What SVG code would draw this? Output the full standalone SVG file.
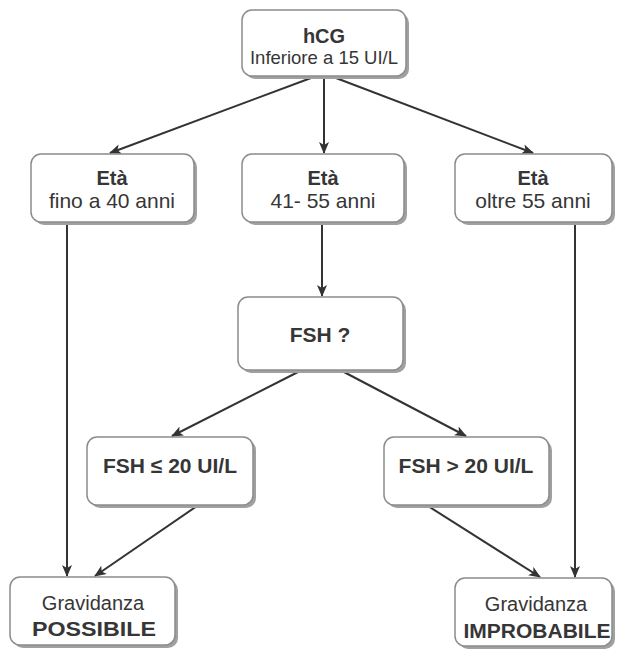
<svg xmlns="http://www.w3.org/2000/svg" width="618" height="655" viewBox="0 0 618 655">
<defs>
<marker id="ah" viewBox="0 0 12 10" refX="11" refY="5" markerWidth="12" markerHeight="10" markerUnits="userSpaceOnUse" orient="auto">
<path d="M0,0 L12,5 L0,10 L3,5 z" fill="#333"/>
</marker>
</defs>
<style>
.box{fill:#fff;stroke:#8c8c8c;stroke-width:1.5}
.sh{fill:#a0a0a0}
.b{font-family:"Liberation Sans",Arial,sans-serif;font-weight:bold;font-size:20px;fill:#363636;text-anchor:middle}
.r{font-family:"Liberation Sans",Arial,sans-serif;font-size:20px;fill:#363636;text-anchor:middle}
.c{stroke:#333;stroke-width:2;fill:none;marker-end:url(#ah)}
</style>
<rect width="618" height="655" fill="#fff"/>
<g id="connectors">
<line class="c" x1="311" y1="78" x2="110" y2="153"/>
<line class="c" x1="324" y1="78" x2="324" y2="153"/>
<line class="c" x1="336" y1="78" x2="533" y2="153"/>
<line class="c" x1="322" y1="222" x2="322" y2="296"/>
<line class="c" x1="300" y1="371" x2="172" y2="436"/>
<line class="c" x1="342" y1="371" x2="466" y2="436"/>
<line class="c" x1="67" y1="223" x2="67" y2="576"/>
<line class="c" x1="197" y1="506" x2="95" y2="576"/>
<line class="c" x1="428" y1="506" x2="540" y2="577"/>
<line class="c" x1="575" y1="223" x2="575" y2="577"/>
</g>
<g id="n_hcg">
<rect class="sh" x="245" y="13" width="164" height="66" rx="10"/>
<rect class="box" x="242" y="10" width="164" height="66" rx="10"/>
<text class="b" x="324" y="43">hCG</text>
<text class="r" x="324" y="64" style="font-size:18.5px">Inferiore a 15 UI/L</text>
</g>
<g id="n_eta1">
<rect class="sh" x="34" y="157" width="163" height="68" rx="10"/>
<rect class="box" x="31" y="154" width="163" height="68" rx="10"/>
<text class="b" x="112" y="185">Età</text>
<text class="r" x="112" y="208" style="font-size:21px">fino a 40 anni</text>
</g>
<g id="n_eta2">
<rect class="sh" x="245" y="157" width="162" height="68" rx="10"/>
<rect class="box" x="242" y="154" width="162" height="68" rx="10"/>
<text class="b" x="323" y="185">Età</text>
<text class="r" x="323" y="208" style="font-size:21px">41- 55 anni</text>
</g>
<g id="n_eta3">
<rect class="sh" x="458" y="157" width="157" height="68" rx="10"/>
<rect class="box" x="455" y="154" width="157" height="68" rx="10"/>
<text class="b" x="533" y="185">Età</text>
<text class="r" x="533" y="208" style="font-size:21px">oltre 55 anni</text>
</g>
<g id="n_fsh">
<rect class="sh" x="241" y="300" width="165" height="73" rx="10"/>
<rect class="box" x="238" y="297" width="165" height="73" rx="10"/>
<text class="b" x="320" y="342" style="font-size:21px">FSH ?</text>
</g>
<g id="n_fsh_le">
<rect class="sh" x="90" y="440" width="166" height="68" rx="10"/>
<rect class="box" x="87" y="437" width="166" height="68" rx="10"/>
<text class="b" x="170" y="473" style="font-size:21px">FSH ≤ 20 UI/L</text>
</g>
<g id="n_fsh_gt">
<rect class="sh" x="387" y="440" width="165" height="68" rx="10"/>
<rect class="box" x="384" y="437" width="165" height="68" rx="10"/>
<text class="b" x="466" y="473" style="font-size:21px">FSH &gt; 20 UI/L</text>
</g>
<g id="n_possibile">
<rect class="sh" x="13" y="580" width="165" height="68" rx="10"/>
<rect class="box" x="10" y="577" width="165" height="68" rx="10"/>
<text class="r" x="93" y="610">Gravidanza</text>
<text class="b" x="94" y="636" style="font-size:21px" textLength="124" lengthAdjust="spacingAndGlyphs">POSSIBILE</text>
</g>
<g id="n_improbabile">
<rect class="sh" x="458" y="581" width="157" height="68" rx="10"/>
<rect class="box" x="455" y="578" width="157" height="68" rx="10"/>
<text class="r" x="536" y="611">Gravidanza</text>
<text class="b" x="537" y="638" style="font-size:21px">IMPROBABILE</text>
</g>
</svg>
